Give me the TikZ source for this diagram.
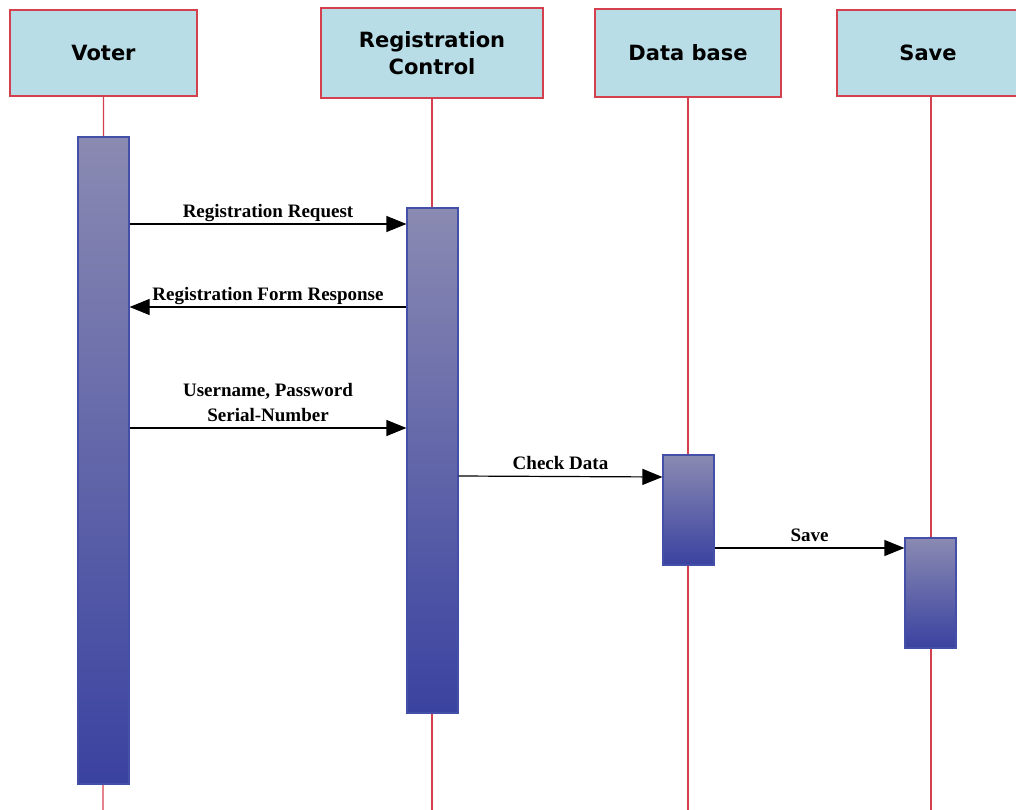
\documentclass[tikz,border=0pt]{standalone}
\usepackage{fontspec}
\setmainfont{Liberation Serif}
\newfontfamily\headfont{DejaVu Sans}
\usetikzlibrary{arrows.meta}
\definecolor{headfill}{HTML}{B8DDE7}
\definecolor{lifered}{HTML}{D4404E}
\definecolor{bartop}{HTML}{8A8AB2}
\definecolor{barbot}{HTML}{3A42A0}
\definecolor{barline}{HTML}{4450A8}
\begin{document}
\begin{tikzpicture}[x=1pt,y=-1pt,
  header/.style={draw=lifered, line width=1.2pt, fill=headfill, inner sep=0pt,
    font=\headfont\bfseries\fontsize{21}{27}\selectfont, align=center},
  lifeline/.style={draw=lifered, line width=1.1pt},
  actbar/.style={draw=barline, line width=1.2pt, top color=bartop, bottom color=barbot,
    minimum width=51pt, inner sep=0pt},
  msg/.style={draw=black, line width=1.2pt, -{Triangle[length=20pt,width=16pt]}},
  msglabel/.style={font=\bfseries\fontsize{19}{25}\selectfont, inner sep=0pt,
    align=center, text depth=4.5pt, above=1.5pt}]
  \useasboundingbox (0,0) rectangle (1016,810);

  % participants
  \node[header, minimum width=187pt, minimum height=86pt] (voter) at (103.5,53) {Voter};
  \node[header, minimum width=222pt, minimum height=90pt] (ctrl) at (432,53) {Registration\\Control};
  \node[header, minimum width=186pt, minimum height=88pt] (db) at (688,53) {Data base};
  \node[header, minimum width=182pt, minimum height=86pt] (save) at (928,53) {Save};

  % lifelines
  \coordinate (voterend) at (103,812);
  \coordinate (ctrlend) at (432,812);
  \coordinate (dbend) at (688,812);
  \coordinate (saveend) at (931,812);
  \draw[lifeline] (voter.south) -- (voterend);
  \draw[lifeline] (ctrl.south) -- (ctrlend);
  \draw[lifeline] (db.south) -- (dbend);
  \draw[lifeline] (save.south -| saveend) -- (saveend);

  % activation bars
  \node[actbar, minimum height=647pt] (vbar) at (103.5,460.5) {};
  \node[actbar, minimum height=505pt] (cbar) at (432.5,460.5) {};
  \node[actbar, minimum height=110pt] (dbar) at (688.5,510) {};
  \node[actbar, minimum height=110pt] (sbar) at (930.5,593) {};

  % messages
  \draw[msg] (vbar.east |- 0,224) -- (cbar.west |- 0,224)
    node[msglabel, midway] {Registration Request};
  \draw[msg] (cbar.west |- 0,307) -- (vbar.east |- 0,307)
    node[msglabel, midway] {Registration Form Response};
  \draw[msg] (vbar.east |- 0,428) -- (cbar.west |- 0,428)
    node[msglabel, midway] {Username, Password\\Serial-Number};
  \draw[msg] (cbar.east |- 0,476) -- (dbar.west |- 0,477)
    node[msglabel, midway] {Check Data};
  \draw[msg] (dbar.east |- 0,548) -- (sbar.west |- 0,548)
    node[msglabel, midway] {Save};
\end{tikzpicture}
\end{document}
